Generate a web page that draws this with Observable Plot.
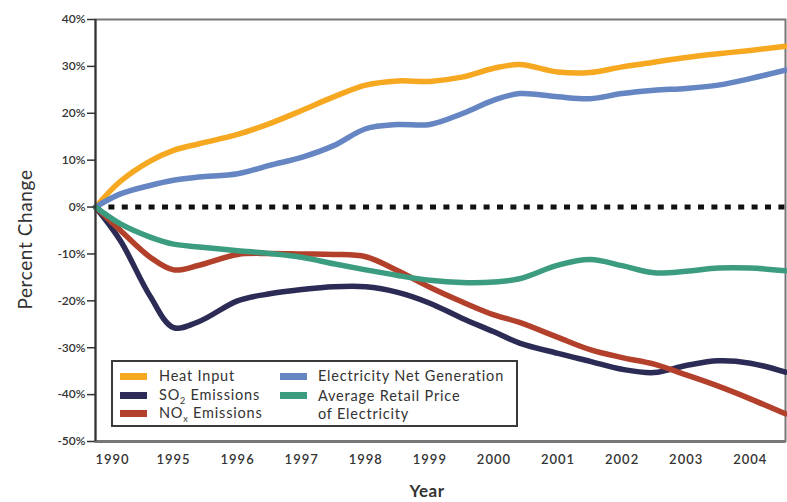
<!DOCTYPE html>
<html><head><meta charset="utf-8">
<script src="https://cdn.jsdelivr.net/npm/d3@7"></script>
<script src="https://cdn.jsdelivr.net/npm/@observablehq/plot@0.6"></script>
<style>
body{margin:0;background:#fff;font-family:Lato,"Open Sans",sans-serif;}
#wrap{position:relative;width:787px;height:502px;overflow:hidden;}
#legend{position:absolute;left:111px;top:360px;width:407px;height:67px;border:2px solid #3a3a3a;box-sizing:border-box;background:#fff;}
.item{position:absolute;font-size:14.5px;letter-spacing:0.8px;color:#333;line-height:15px;white-space:nowrap;}
.sw{position:absolute;width:27px;height:7px;}
#ylab{position:absolute;left:-56px;top:228px;width:160px;text-align:center;transform:rotate(-90deg);font-size:19px;letter-spacing:0.6px;color:#333;}
#xlab{position:absolute;left:380px;top:480px;width:94px;text-align:center;font-size:17px;font-weight:bold;color:#333;letter-spacing:0.5px;}
</style></head>
<body><div id="wrap"></div>
<script>
// sampled positions (years) and readings (% change from 1990)
const years = [1990, 1991.6, 1993.5, 1995, 1995.4, 1996, 1996.5, 1997, 1997.5, 1998, 1998.5, 1999, 1999.5, 2000, 2000.4, 2001, 2001.5, 2002, 2002.5, 2003, 2003.5, 2004, 2004.55];
const heatInput   = [0, 5.5, 9.8, 12.1, 13.5, 15.5, 17.8, 20.6, 23.5, 26.0, 26.9, 26.8, 27.7, 29.6, 30.4, 28.8, 28.7, 29.9, 30.9, 31.9, 32.7, 33.4, 34.3];
const netGen      = [0, 2.8, 4.6, 5.7, 6.4, 7.1, 8.9, 10.6, 13.1, 16.7, 17.6, 17.6, 19.9, 22.8, 24.2, 23.5, 23.1, 24.2, 24.9, 25.3, 26.0, 27.4, 29.2];
const so2         = [0, -7.2, -19.0, -25.7, -24.4, -20.0, -18.5, -17.6, -17.0, -17.0, -18.2, -20.5, -23.7, -26.6, -29.0, -31.2, -32.9, -34.6, -35.3, -33.8, -32.8, -33.3, -35.2];
const nox         = [0, -5.0, -10.7, -13.4, -12.4, -10.1, -9.9, -10.0, -10.1, -10.6, -13.6, -17.1, -20.2, -23.0, -24.6, -27.8, -30.4, -32.1, -33.5, -35.8, -38.2, -40.9, -44.1];
const retailPrice = [0, -3.6, -6.4, -7.9, -8.5, -9.3, -9.9, -10.7, -12.1, -13.4, -14.6, -15.6, -16.1, -16.0, -15.3, -12.4, -11.2, -12.5, -14.0, -13.7, -13.0, -13.0, -13.6];

const seriesNames = ["Heat Input", "Electricity Net Generation", "SO2 Emissions", "NOx Emissions", "Average Retail Price of Electricity"];
const seriesColors = ["#f6a821", "#6585c3", "#2c2b55", "#b2402b", "#3c9c7f"];
const seriesValues = [heatInput, netGen, so2, nox, retailPrice];

const yTicks = [-50, -40, -30, -20, -10, 0, 10, 20, 30, 40];
const xTicks = [1995, 1996, 1997, 1998, 1999, 2000, 2001, 2002, 2003, 2004];
const xTickLabels = ["1995","1996","1997","1998","1999","2000","2001","2002","2003","2004"];

const data = seriesNames.flatMap((name, k) => years.map((yr, i) => ({year: yr, value: seriesValues[k][i], name})));

const chart = Plot.plot({
  width: 787, height: 502,
  marginLeft: 95, marginRight: 2, marginTop: 19, marginBottom: 61,
  style: {fontFamily: "Lato, 'Open Sans', sans-serif", background: "#fff"},
  x: {type: "linear", domain: [1990, 1995, 2004.55], range: [95, 173, 785]},
  y: {domain: [-50, 40]},
  color: {domain: seriesNames, range: seriesColors},
  marks: [
    Plot.frame({stroke: "#777", strokeWidth: 2}),
    Plot.ruleY([-50], {stroke: "#777", strokeWidth: 3}),
    Plot.ruleY([0], {stroke: "#111", strokeWidth: 5, strokeDasharray: "6,7.4"}),
    Plot.line(data, {x: "year", y: "value", z: "name", stroke: "name", strokeWidth: 5.5, curve: "catmull-rom"}),
    Plot.ruleX([1990], {stroke: "#333", strokeWidth: 2}),
    Plot.axisY({ticks: yTicks, tickFormat: d => d + "%", tickSize: 8, tickPadding: 2, fontSize: 12, fontWeight: 600, stroke: "#333", strokeWidth: 1.5, color: "#333", label: null}),
    Plot.axisX({ticks: xTicks, tickFormat: (d, i) => xTickLabels[i], tickSize: 0, tickPadding: 13, fontSize: 13, fontWeight: 600, letterSpacing: "1px", color: "#333", label: null}),
    Plot.axisX({ticks: [1990], tickFormat: () => "1990", tickSize: 0, tickPadding: 13, dx: 17, fontSize: 13, fontWeight: 600, color: "#333", label: null})
  ]
});

const wrap = document.getElementById("wrap");
wrap.appendChild(chart);
chart.querySelectorAll("g[aria-label='x-axis tick label'] text").forEach(t => t.style.letterSpacing = "1px");

const ylab = document.createElement("div"); ylab.id = "ylab"; ylab.textContent = "Percent Change"; wrap.appendChild(ylab);
const xlab = document.createElement("div"); xlab.id = "xlab"; xlab.textContent = "Year"; wrap.appendChild(xlab);

const legend = document.createElement("div"); legend.id = "legend";
const legendItems = [
  {k: 0, html: "Heat Input", col: 0, row: 0},
  {k: 2, html: "SO<sub style='font-size:9px'>2</sub> Emissions", col: 0, row: 1},
  {k: 3, html: "NO<sub style='font-size:9px'>x</sub> Emissions", col: 0, row: 2},
  {k: 1, html: "Electricity Net Generation", col: 1, row: 0},
  {k: 4, html: "Average Retail Price<br>of Electricity", col: 1, row: 1}
];
const colX = [[7, 46], [167, 205]];
const rowY = [14, 33, 51];
for (const it of legendItems) {
  const sw = document.createElement("div"); sw.className = "sw";
  sw.style.background = seriesColors[it.k];
  sw.style.left = colX[it.col][0] + "px"; sw.style.top = (rowY[it.row] - 3.5) + "px";
  legend.appendChild(sw);
  const t = document.createElement("div"); t.className = "item";
  t.innerHTML = it.html;
  t.style.left = colX[it.col][1] + "px"; t.style.top = (rowY[it.row] - 8) + "px";
  if (it.row === 1 && it.col === 1) t.style.lineHeight = "18px";
  legend.appendChild(t);
}
wrap.appendChild(legend);
</script></body></html>
